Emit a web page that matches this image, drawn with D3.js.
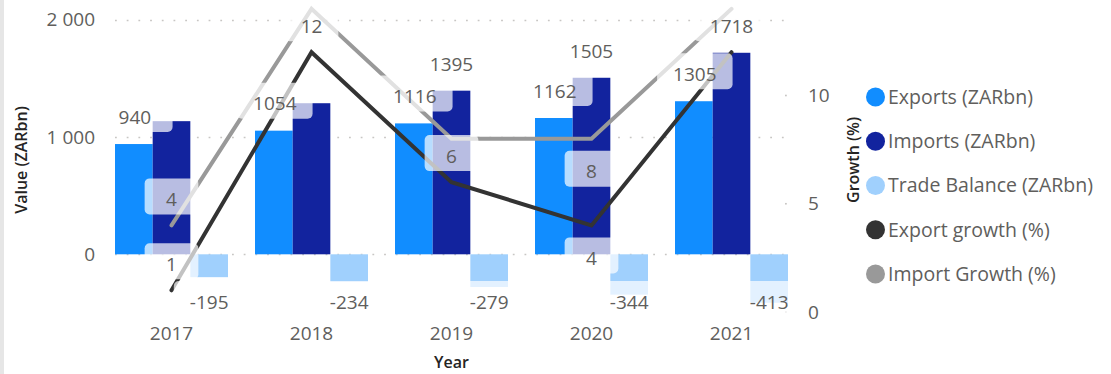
<!DOCTYPE html>
<html>
<head>
<meta charset="utf-8">
<script src="https://cdn.jsdelivr.net/npm/d3@7"></script>
<style>
  html, body { margin: 0; padding: 0; background: #ffffff; }
  svg { display: block; font-family: "Segoe UI", "Open Sans", "Noto Sans", sans-serif; }
</style>
</head>
<body>
<svg id="chart" width="1111" height="374"></svg>
<script>
// ---- data ----
const years = ["2017", "2018", "2019", "2020", "2021"];
const exportsZAR = [940, 1054, 1116, 1162, 1305];
const importsZAR = [1135, 1288, 1395, 1505, 1718];
const tradeBalanceZAR = [-195, -234, -279, -344, -413];
const exportGrowth = [1, 12, 6, 4, 12];
const importGrowth = [4, 14, 8, 8, 14];
const valueTicks = [0, 1000, 2000];
const growthTicks = [0, 5, 10];
const legendNames = ["Exports (ZARbn)", "Imports (ZARbn)", "Trade Balance (ZARbn)", "Export growth (%)", "Import Growth (%)"];

// which data labels are drawn (overlapping ones are suppressed)
const barLabelShown = {
  exports: [true, true, true, true, true],
  imports: [false, false, true, true, true],
  trade:   [true, true, true, true, true]
};
const lineLabelSide = {
  exportGrowth: ["above", "above", "above", "below", null],
  importGrowth: ["above", null, null, "below", null]
};

// ---- styling ----
const colors = {
  exports: "#118dff",
  imports: "#12239e",
  trade: "#a0d0fd",
  exportGrowth: "#333333",
  importGrowth: "#999999"
};
const legendColors = [colors.exports, colors.imports, colors.trade, colors.exportGrowth, colors.importGrowth];
const textGray = "#605e5c";
const titleColor = "#252423";

const svg = d3.select("#chart");

// ---- scales ----
const x = d3.scaleBand().domain(years).range([101.5, 801.5]).paddingInner(0.193).paddingOuter(0.0965);
const xs = d3.scaleBand().domain(["exports", "imports", "trade"]).range([0, x.bandwidth()]);
const yL = d3.scaleLinear().domain([0, 2000]).range([254.3, 19.7]);
const yR = d3.scaleLinear().domain([0, 10]).range([312, 95.5]);

const spaceFmt = d3.formatLocale({ decimal: ".", thousands: " ", grouping: [3], currency: ["", ""] }).format(",");

// left frame strip
svg.append("rect").attr("x", 0).attr("y", 0).attr("width", 4).attr("height", 374).attr("fill", "#e6e6e6");

// ---- gridlines ----
const grid = svg.append("g");
grid.selectAll("line.grid").data(valueTicks).join("line")
  .attr("class", "grid")
  .attr("x1", 115).attr("x2", 786)
  .attr("y1", d => Math.round(yL(d)) + 0.5).attr("y2", d => Math.round(yL(d)) + 0.5)
  .attr("stroke", "#c8c6c4").attr("stroke-width", 1.6)
  .attr("stroke-dasharray", "1.8 9.9");
grid.selectAll("rect.rtick").data(growthTicks).join("rect")
  .attr("class", "rtick")
  .attr("x", 785).attr("y", d => yR(d) - 0.8)
  .attr("width", 1.8).attr("height", 1.6).attr("fill", "#c8c6c4");

// ---- bars ----
const groups = svg.append("g").selectAll("g").data(years).join("g")
  .attr("transform", d => `translate(${x(d)},0)`);

groups.append("rect")
  .attr("x", xs("exports")).attr("width", xs.bandwidth())
  .attr("y", (d, i) => yL(exportsZAR[i]))
  .attr("height", (d, i) => yL(0) - yL(exportsZAR[i]))
  .attr("fill", colors.exports);
groups.append("rect")
  .attr("x", xs("imports")).attr("width", xs.bandwidth())
  .attr("y", (d, i) => yL(importsZAR[i]))
  .attr("height", (d, i) => yL(0) - yL(importsZAR[i]))
  .attr("fill", colors.imports);
groups.append("rect")
  .attr("x", xs("trade")).attr("width", xs.bandwidth())
  .attr("y", (d, i) => yL(Math.max(0, tradeBalanceZAR[i])))
  .attr("height", (d, i) => Math.abs(yL(tradeBalanceZAR[i]) - yL(0)))
  .attr("fill", colors.trade);

// ---- growth lines ----
const cxOf = yr => x(yr) + x.bandwidth() / 2;
const line = d3.line().x(d => cxOf(d.year)).y(d => yR(d.v));
const exportPts = years.map((year, i) => ({ year, v: exportGrowth[i] }));
const importPts = years.map((year, i) => ({ year, v: importGrowth[i] }));

svg.append("path").datum(exportPts).attr("d", line)
  .attr("fill", "none").attr("stroke", colors.exportGrowth).attr("stroke-width", 4)
  .attr("stroke-linecap", "round");
svg.append("path").datum(importPts).attr("d", line)
  .attr("fill", "none").attr("stroke", colors.importGrowth).attr("stroke-width", 4)
  .attr("stroke-linecap", "round");

// ---- data labels ----
const labels = [];
years.forEach((yr, i) => {
  const x0 = x(yr);
  if (barLabelShown.exports[i]) labels.push({ series: "exports", text: String(exportsZAR[i]),
    cx: x0 + xs("exports") + xs.bandwidth() / 2 + 1, cy: yL(exportsZAR[i]) - 27 });
  if (barLabelShown.imports[i]) labels.push({ series: "imports", text: String(importsZAR[i]),
    cx: x0 + xs("imports") + xs.bandwidth() / 2, cy: yL(importsZAR[i]) - 26.5 });
  if (barLabelShown.trade[i]) labels.push({ series: "trade", text: String(tradeBalanceZAR[i]),
    cx: x0 + xs("trade") + xs.bandwidth() / 2, cy: Math.min(yL(tradeBalanceZAR[i]) + 26, 302) });
  const se = lineLabelSide.exportGrowth[i];
  if (se) labels.push({ series: "exportGrowth", text: String(exportGrowth[i]),
    cx: cxOf(yr), cy: yR(exportGrowth[i]) + (se === "above" ? -26 : 33) });
  const si = lineLabelSide.importGrowth[i];
  if (si) labels.push({ series: "importGrowth", text: String(importGrowth[i]),
    cx: cxOf(yr), cy: yR(importGrowth[i]) + (si === "above" ? -26 : 33) });
});

// label background width follows the widest label of its series
const labelFont = 19;
const probe = svg.append("text").attr("font-size", labelFont);
const measure = s => { probe.text(s); return probe.node().getComputedTextLength(); };
const seriesValues = {
  exports: exportsZAR, imports: importsZAR, trade: tradeBalanceZAR,
  exportGrowth: exportGrowth, importGrowth: importGrowth
};
const boxWidth = {};
Object.keys(seriesValues).forEach(k => {
  boxWidth[k] = d3.max(seriesValues[k], v => measure(String(v))) + 32;
});
probe.remove();

const labelLayer = svg.append("g");
labelLayer.selectAll("rect").data(labels).join("rect")
  .attr("x", d => d.cx - boxWidth[d.series] / 2)
  .attr("y", d => d.cy - 21)
  .attr("width", d => boxWidth[d.series])
  .attr("height", 36)
  .attr("rx", 5)
  .attr("fill", "#ffffff").attr("fill-opacity", 0.7);
labelLayer.selectAll("text").data(labels).join("text")
  .attr("x", d => d.cx).attr("y", d => d.cy).attr("dy", "0.35em")
  .attr("text-anchor", "middle")
  .attr("font-size", labelFont).attr("fill", textGray)
  .text(d => d.text);

// ---- axes ----
const axisL = svg.append("g").attr("transform", "translate(100,0)")
  .call(d3.axisLeft(yL).tickValues(valueTicks).tickSize(0).tickPadding(5).tickFormat(d => spaceFmt(d)));
const axisR = svg.append("g").attr("transform", "translate(805,0)")
  .call(d3.axisRight(yR).tickValues(growthTicks).tickSize(0).tickPadding(3));
const axisB = svg.append("g").attr("transform", "translate(0,318)")
  .call(d3.axisBottom(x).tickSize(0).tickPadding(9));
[axisL, axisR, axisB].forEach(g => {
  g.select(".domain").remove();
  g.selectAll("text").attr("font-size", 19).attr("fill", textGray)
    .attr("font-family", "'Segoe UI', 'Open Sans', 'Noto Sans', sans-serif");
});

// axis titles
const titleStyle = s => s.attr("font-size", 16).attr("font-weight", 600).attr("fill", titleColor)
  .attr("text-anchor", "middle").attr("dy", "0.35em");
svg.append("text").attr("transform", "translate(21,160) rotate(-90)").call(titleStyle).text("Value (ZARbn)");
svg.append("text").attr("transform", "translate(853,160) rotate(-90)").call(titleStyle).text("Growth (%)");
svg.append("text").attr("x", cxOf("2019")).attr("y", 362).call(titleStyle).text("Year");

// ---- legend ----
const legend = svg.append("g").selectAll("g").data(legendNames).join("g")
  .attr("transform", (d, i) => `translate(875.5,${97 + i * 44.25})`);
legend.append("circle").attr("r", 9.5).attr("fill", (d, i) => legendColors[i]);
legend.append("text").attr("x", 12.5).attr("dy", "0.35em")
  .attr("font-size", 19.5).attr("fill", textGray).text(d => d);
</script>
</body>
</html>
